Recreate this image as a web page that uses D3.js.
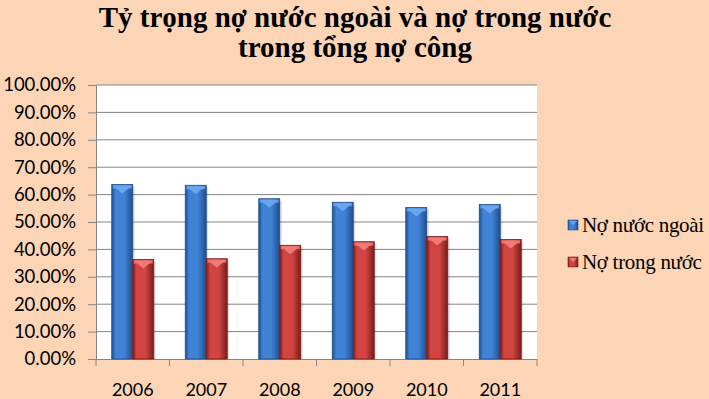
<!DOCTYPE html>
<html>
<head>
<meta charset="utf-8">
<script src="https://cdn.jsdelivr.net/npm/d3@7"></script>
<style>
  body { margin: 0; background: #fbd5b5; }
  svg { display: block; }
  .serif { font-family: "Times New Roman", "Liberation Serif", serif; }
  .sans { font-family: Lato, "Open Sans", sans-serif; }
</style>
</head>
<body>
<svg id="chart" width="709" height="399"></svg>
<script>
// data
const years = ["2006", "2007", "2008", "2009", "2010", "2011"];
const seriesNames = ["Nợ nước ngoài", "Nợ trong nước"];
const foreignDebt = [0.637, 0.634, 0.585, 0.572, 0.553, 0.564];
const domesticDebt = [0.363, 0.366, 0.415, 0.428, 0.447, 0.436];
const yTicks = [0, 0.1, 0.2, 0.3, 0.4, 0.5, 0.6, 0.7, 0.8, 0.9, 1.0];
const titleLines = ["Tỷ trọng nợ nước ngoài và nợ trong nước", "trong tổng nợ công"];

const svg = d3.select("#chart");
const defs = svg.append("defs");

// plot area bounds
const plotLeft = 96, plotRight = 537, plotTop = 85, plotBottom = 359;

const colors = [
  {dark: "#1f4e8c", mid: "#3f82d6", light: "#6aa6ee"},
  {dark: "#7a1c1a", mid: "#d24441", light: "#f07a76"}
];
colors.forEach(function(c, i){
  const g = defs.append("linearGradient").attr("id", "grad" + i)
    .attr("x1", 0).attr("x2", 1).attr("y1", 0).attr("y2", 0);
  g.append("stop").attr("offset", "0%").attr("stop-color", c.dark);
  g.append("stop").attr("offset", "18%").attr("stop-color", c.mid);
  g.append("stop").attr("offset", "60%").attr("stop-color", c.mid);
  g.append("stop").attr("offset", "100%").attr("stop-color", c.dark);
});

svg.append("rect").attr("width", 709).attr("height", 399).attr("fill", "#fbd5b5");
svg.append("rect").attr("x", plotLeft).attr("y", plotTop)
  .attr("width", plotRight - plotLeft).attr("height", plotBottom - plotTop).attr("fill", "#ffffff");

const x = d3.scaleBand().domain(years).range([plotLeft, plotRight]);
const x1 = d3.scaleBand().domain([0, 1]).range([0, 42]);
const y = d3.scaleLinear().domain([0, 1]).range([plotBottom, plotTop]);

// gridlines
svg.append("g").selectAll("line").data(yTicks.slice(1)).join("line")
  .attr("x1", plotLeft).attr("x2", plotRight)
  .attr("y1", d => y(d)).attr("y2", d => y(d))
  .attr("stroke", "#868686").attr("stroke-width", 1);

// y axis
const yAxis = svg.append("g").attr("transform", "translate(" + plotLeft + ",0)")
  .call(d3.axisLeft(y).tickValues(yTicks).tickFormat(d3.format(".2%")).tickSize(8).tickPadding(12));
yAxis.attr("font-family", null).attr("font-size", null);
yAxis.select(".domain").attr("stroke", "#868686");
yAxis.selectAll(".tick line").attr("stroke", "#868686");
yAxis.selectAll("text").attr("class", "sans")
  .style("font-size", "18.5px").attr("fill", "#000");

// x axis
const xAxis = svg.append("g").attr("transform", "translate(0," + plotBottom + ")")
  .call(d3.axisBottom(x).tickSize(0).tickPadding(24));
xAxis.attr("font-family", null).attr("font-size", null);
xAxis.select(".domain").attr("stroke", "#868686");
xAxis.selectAll("text").attr("class", "sans")
  .style("font-size", "18px").attr("fill", "#000");
svg.append("g").selectAll("line").data(years.concat(["end"])).join("line")
  .attr("x1", (d, i) => plotLeft + i * x.bandwidth()).attr("x2", (d, i) => plotLeft + i * x.bandwidth())
  .attr("y1", plotBottom).attr("y2", plotBottom + 7).attr("stroke", "#868686");

// bars
const rows = years.map((yr, i) => ({year: yr, vals: [foreignDebt[i], domesticDebt[i]]}));
const groups = svg.append("g").selectAll("g").data(rows).join("g")
  .attr("transform", d => "translate(" + (x(d.year) + x.bandwidth() / 2 - 21) + ",0)");

groups.each(function(d){
  const g = d3.select(this);
  d.vals.forEach(function(v, s){
    const bx = x1(s), bw = x1.bandwidth(), by = y(v), bh = plotBottom - by;
    // soft shadow
    g.append("rect").attr("x", bx + 2).attr("y", by + 2).attr("width", bw).attr("height", bh - 2)
      .attr("fill", "#000").attr("opacity", 0.12);
    g.append("rect").attr("x", bx).attr("y", by).attr("width", bw).attr("height", bh)
      .attr("fill", "url(#grad" + s + ")").attr("stroke", colors[s].dark).attr("stroke-width", 0.8);
    // top bevel
    g.append("polygon")
      .attr("points", [[bx + 1, by + 1], [bx + bw - 1, by + 1], [bx + bw / 2, by + 9]].join(" "))
      .attr("fill", colors[s].light);
    g.append("rect").attr("x", bx + 1).attr("y", by + 1).attr("width", bw - 2).attr("height", 3)
      .attr("fill", colors[s].light).attr("opacity", 0.8);
  });
});

// title
svg.append("g").selectAll("text").data(titleLines).join("text")
  .attr("class", "serif")
  .attr("x", 355).attr("y", (d, i) => 27 + i * 30)
  .attr("text-anchor", "middle")
  .style("font-weight", "bold").style("font-size", "29px").attr("fill", "#000")
  .text(d => d);

// legend
const legend = svg.append("g").selectAll("g").data(seriesNames).join("g")
  .attr("transform", (d, i) => "translate(568," + (220 + i * 37) + ")");
legend.append("rect").attr("width", 10).attr("height", 10)
  .attr("fill", (d, i) => "url(#grad" + i + ")").attr("stroke", (d, i) => colors[i].dark).attr("stroke-width", 0.6);
legend.append("polygon").attr("points", "1,1 9,1 5,5").attr("fill", (d, i) => colors[i].light);
legend.append("text").attr("class", "serif").attr("x", 14).attr("y", 12)
  .style("font-size", "21px").style("letter-spacing", "-0.3px").attr("fill", "#000")
  .text(d => d);
</script>
</body>
</html>
